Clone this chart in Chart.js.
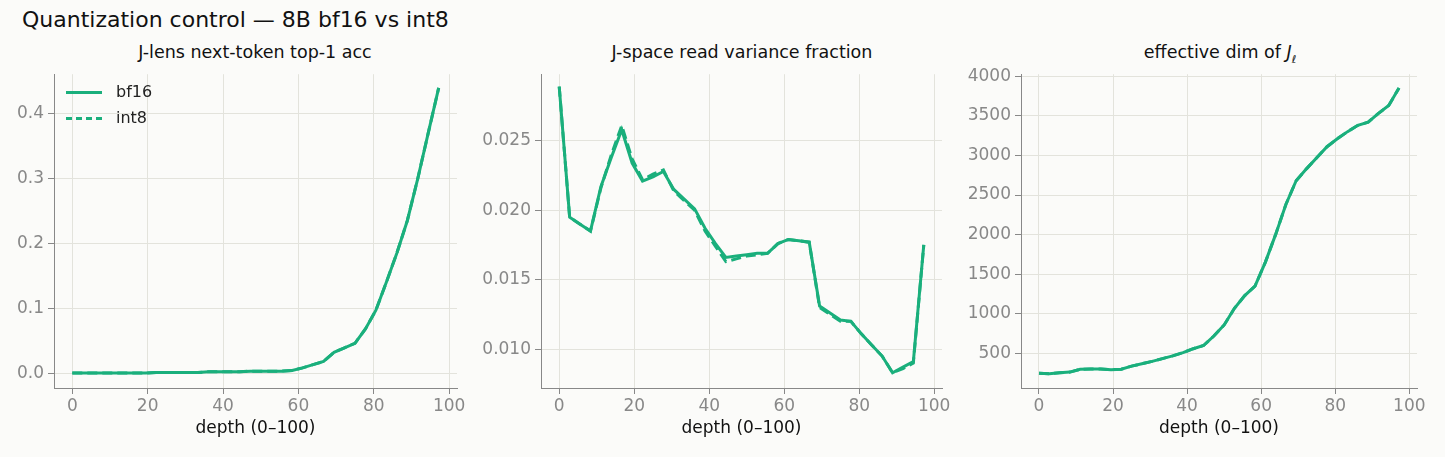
<!DOCTYPE html>
<html><head><meta charset="utf-8">
<script src="https://cdn.jsdelivr.net/npm/chart.js@4"></script>
<style>
body{margin:0;background:#fbfbf9;font-family:"DejaVu Sans",sans-serif;width:1445px;height:457px;position:relative;overflow:hidden}
.t{position:absolute;color:#111;white-space:nowrap}
canvas{position:absolute}
.lg{position:absolute;left:66px;top:79px;font-size:16px;color:#222;line-height:26px}
.lg span{display:inline-block;width:36px;height:0;border-top:3px solid #1aaf7c;vertical-align:middle;margin-right:14px}
</style></head><body>
<div class="t" style="left:22px;top:7px;font-size:22px">Quantization control — 8B bf16 vs int8</div>
<div class="t" style="left:255px;top:42px;font-size:17.5px;transform:translateX(-50%)">J-lens next-token top-1 acc</div>
<div class="t" style="left:742px;top:42px;font-size:17.5px;transform:translateX(-50%)">J-space read variance fraction</div>
<div class="t" style="left:1220px;top:42px;font-size:17.5px;transform:translateX(-50%)">effective dim of <i>J</i><sub style="font-size:11px"><i>ℓ</i></sub></div>
<canvas id="c1" style="left:0;top:60px" width="470" height="397"></canvas>
<canvas id="c2" style="left:480px;top:60px" width="475" height="397"></canvas>
<canvas id="c3" style="left:960px;top:60px" width="470" height="397"></canvas>
<div class="lg"><div><span></span>bf16</div><div><span style="border-top-style:dashed"></span>int8</div></div>
<script>
const depth=[0,2.78,5.56,8.33,11.11,13.89,16.67,19.44,22.22,25,27.78,30.56,33.33,36.11,38.89,41.67,44.44,47.22,50,52.78,55.56,58.33,61.11,63.89,66.67,69.44,72.22,75,77.78,80.56,83.33,86.11,88.89,91.67,94.44,97.22];
const accBf16=[0,0,0,0,0,0,0,0,0.001,0.001,0.001,0.001,0.001,0.002,0.002,0.002,0.002,0.003,0.003,0.003,0.003,0.004,0.008,0.013,0.018,0.032,0.039,0.046,0.068,0.097,0.14,0.185,0.235,0.3,0.37,0.44];
const accInt8=[0,0,0,0,0,0,0,0,0.001,0.001,0.001,0.001,0.001,0.002,0.002,0.002,0.002,0.003,0.003,0.003,0.003,0.004,0.008,0.013,0.018,0.032,0.039,0.046,0.068,0.097,0.14,0.185,0.235,0.3,0.37,0.44];
const varBf16=[0.0289,0.0195,0.019,0.0185,0.0217,0.0238,0.0258,0.0234,0.0221,0.0224,0.0228,0.0215,0.0208,0.0201,0.0187,0.0176,0.0166,0.0167,0.0168,0.0169,0.0169,0.0176,0.0179,0.0178,0.0177,0.0131,0.0126,0.0121,0.012,0.0111,0.0103,0.0095,0.0083,0.0087,0.0091,0.0175];
const varInt8=[0.0289,0.0195,0.019,0.0185,0.0216,0.024,0.0261,0.0237,0.0222,0.0226,0.0229,0.0214,0.0207,0.02,0.0185,0.0174,0.0163,0.0165,0.0167,0.0168,0.0169,0.0176,0.0179,0.0178,0.0177,0.013,0.0125,0.012,0.012,0.0111,0.0103,0.0095,0.0083,0.0086,0.009,0.0175];
const dimBf16=[250,245,255,265,300,305,305,295,300,340,370,400,435,470,510,560,600,720,860,1070,1230,1350,1650,2000,2380,2680,2830,2970,3110,3210,3300,3380,3420,3530,3630,3850];
const dimInt8=[250,245,255,265,300,305,305,295,300,340,370,400,435,470,510,560,600,720,860,1070,1230,1350,1650,2000,2380,2680,2830,2970,3110,3210,3300,3380,3420,3530,3630,3850];
const xTicks=[0,20,40,60,80,100];
const G='#1aaf7c';
const F={size:17,family:'DejaVu Sans'};
function mk(id,a,b,ymin,ymax,step,yw,fmt){
  const pts=v=>depth.map((d,i)=>({x:d,y:v[i]}));
  new Chart(document.getElementById(id),{type:'line',
    data:{datasets:[
      {data:pts(a),borderColor:G,borderWidth:3,pointRadius:0,tension:0},
      {data:pts(b),borderColor:G,borderWidth:3,borderDash:[10,5],pointRadius:0,tension:0}]},
    options:{responsive:false,animation:false,events:[],
      layout:{padding:{top:10,right:13,left:0,bottom:14}},
      plugins:{legend:{display:false},tooltip:{enabled:false}},
      scales:{
        x:{type:'linear',min:-4.86,max:102.08,afterBuildTicks:s=>{s.ticks=xTicks.map(v=>({value:v}))},
          afterFit:s=>{s.height=55},
          grid:{color:'#e3e3dc',tickColor:'#888',tickLength:6},border:{color:'#888'},
          ticks:{color:'#888',font:F,padding:2},
          title:{display:true,text:'depth (0–100)',color:'#111',font:F,padding:{top:0}}},
        y:{min:ymin,max:ymax,afterFit:s=>{s.width=yw},
          afterBuildTicks:s=>{const t=[];for(let v=Math.ceil(ymin/step-1e-9)*step;v<=ymax+1e-12;v+=step)t.push({value:+v.toFixed(6)});s.ticks=t},
          grid:{color:'#e3e3dc',tickColor:'#888',tickLength:6},border:{color:'#888'},
          ticks:{color:'#888',font:F,padding:4,callback:fmt}}}}});
}
mk('c1',accBf16,accInt8,-0.023,0.461,0.1,54,v=>v.toFixed(1));
mk('c2',varBf16,varInt8,0.0072,0.0298,0.005,61,v=>v.toFixed(3));
mk('c3',dimBf16,dimInt8,64,4025,500,61,v=>String(Math.round(v)));
</script></body></html>
